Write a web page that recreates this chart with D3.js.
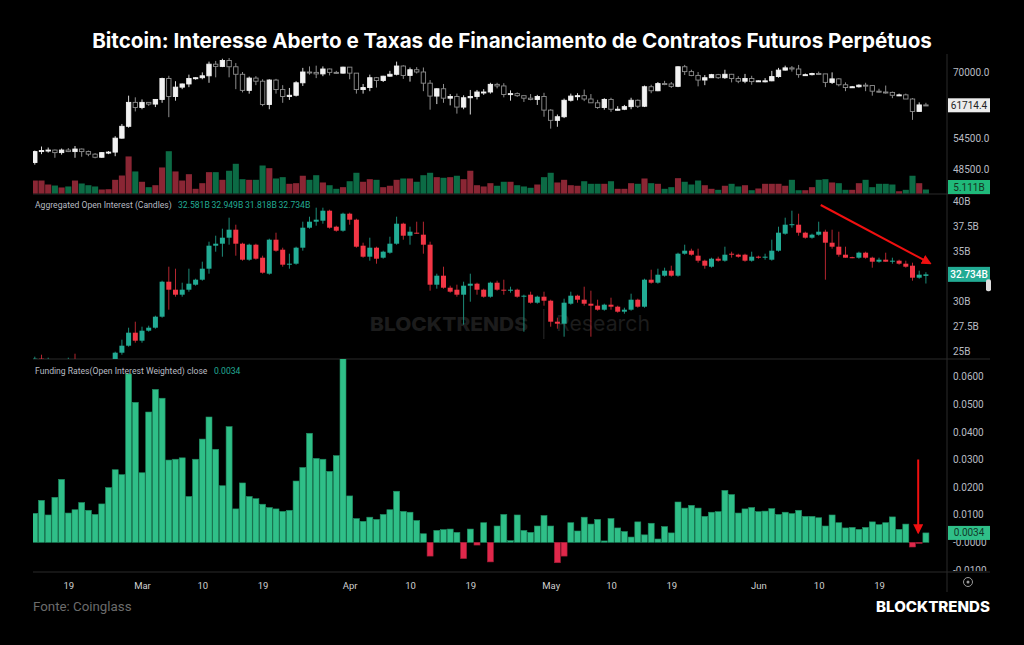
<!DOCTYPE html>
<html>
<head>
<meta charset="utf-8">
<script src="https://cdn.jsdelivr.net/npm/d3@7"></script>
<style>
  html, body { margin: 0; background: #000; }
  text { font-family: Roboto, "Liberation Sans", sans-serif; }
</style>
</head>
<body>
<svg id="chart" width="1024" height="645"></svg>
<script>
// daily candles, 2024-02-14 .. 2024-06-26
const startDay = Date.UTC(2024, 1, 14)

// BTC price [open, high, low, close]
const btcOHLC = [
  [49700,52000,49300,51800],[51800,52800,51300,52000],[52000,52600,51600,52100],[52100,52200,50600,51600],
  [51600,52400,51200,52100],[52100,52500,51700,51800],[51800,52900,50600,52300],[52300,52400,50800,51800],
  [51800,52000,50900,51300],[51300,51500,50500,50700],[50700,51700,50600,51600],[51600,51900,51300,51700],
  [51700,54900,50900,54500],[54500,57500,54400,57000],[57000,64000,56700,62400],[62400,63600,60300,61200],
  [61200,63100,60800,62400],[62400,62400,61600,62000],[62000,63200,61300,63100],[63100,68500,62300,68300],
  [68300,69000,59000,63800],[63800,67600,62800,66100],[66100,67000,65600,66900],[66900,69300,66100,68300],
  [68300,68600,68000,68500],[68500,69900,68100,69000],[69000,72800,67200,72100],[72100,73000,68600,71500],
  [71500,73600,71300,73100],[73100,73800,68600,71400],[71400,72400,65600,69400],[69400,70000,64800,65300],
  [65300,68800,64500,68400],[68400,68900,66600,67600],[67600,68100,61500,61900],[61900,68100,60800,67900],
  [67900,68200,64500,65500],[65500,66600,62300,63800],[63800,65900,63000,64100],[64100,67600,63800,67200],
  [67200,71100,66400,70000],[70000,71500,69300,69900],[69900,71700,68400,69500],[69500,71500,68900,70800],
  [70800,70900,69100,69900],[69900,70300,69500,69700],[69700,71400,69600,71300],
  [71300,71300,68100,69700],[69700,69700,64500,65500],[65500,66900,64500,66000],[66000,69300,65100,68500],
  [68500,68700,66000,67800],[67800,69000,67400,68900],[68900,70300,68800,69400],[69400,72800,69100,71600],
  [71600,71800,68200,69100],[69100,71200,67500,70600],[70600,71300,69600,70000],[70000,71200,65100,67100],
  [67100,67900,60700,63900],[63900,65800,62000,65700],[65700,66900,62300,63400],[63400,64400,61700,63800],
  [63800,64500,59800,61300],[61300,64100,60800,63500],[63500,65400,59600,63800],[63800,65400,63100,64900],
  [64900,65600,64200,64900],[64900,67200,64500,66800],[66800,67200,65800,66400],[66400,67100,63600,64300],
  [64300,65300,62800,64500],[64500,64800,63700,64000],[64000,64000,62500,63400],[63400,64400,62900,63100],
  [63100,64200,61800,63800],[63800,64700,59100,60600],
  [60600,60800,56500,58300],[58300,59600,56900,59100],[59100,63300,58800,62900],[62900,64500,62600,63900],
  [63900,64600,62900,64000],[64000,65500,62700,63200],[63200,64400,62300,62300],[62300,63000,60900,61200],
  [61200,63400,60700,63100],[63100,63500,60200,60800],[60800,61500,60500,60800],[60800,61800,60600,61400],
  [61400,63500,60800,62900],[62900,63100,61100,61500],[61500,66500,61300,66200],[66200,66700,64600,65200],
  [65200,67400,65100,67000],[67000,67700,66600,66900],[66900,67400,65900,66300],[66300,71500,66100,71400],
  [71400,71900,69200,70100],[70100,70600,68900,69100],[69100,70000,66300,67900],[67900,69200,66600,68500],
  [68500,69500,68500,69300],[69300,69500,68200,68500],[68500,70600,68200,69400],[69400,69500,67300,68300],
  [68300,68900,67100,67600],[67600,69500,67100,68300],[68300,69000,66700,67500],
  [67500,67800,67400,67700],[67700,68400,67300,67700],[67700,70300,67600,68800],[68800,71100,68500,70500],
  [70500,71700,70400,71100],[71100,71600,70100,70800],[70800,71900,68500,69300],[69300,69600,69200,69300],
  [69300,69800,69100,69600],[69600,70100,69200,69500],[69500,69500,66100,67300],[67300,69900,66900,68200],
  [68200,68400,66300,66700],[66700,67300,65100,66000],[66000,66400,65900,66200],[66200,66800,66000,66600],
  [66600,67200,65100,66500],[66500,66500,64000,65100],[65100,65700,64700,64900],[64900,66500,64500,64800],
  [64800,65000,63400,64100],[64100,64500,63900,64200],[64200,64500,63200,63200],[63200,63400,58400,60300],
  [60300,62400,60300,61800],[61800,62300,61600,61714.4]
]

// volume, billions
const btcVolumeB = [
  16.6,16.6,11.5,10.2,7.7,9.0,16.6,12.8,10.6,9.0,5.1,5.5,17.5,23.0,47.4,28.2,
  15.0,8.1,10.6,33.3,54.1,28.2,16.6,24.7,6.0,13.2,27.3,27.3,17.5,29.1,38.0,18.3,
  17.5,17.5,35.8,32.4,19.2,20.9,12.4,13.2,22.7,17.5,23.4,14.1,10.6,6.0,8.1,
  15.7,26.5,15.0,18.3,17.5,8.1,9.9,17.5,19.2,19.2,15.0,23.4,26.5,20.9,20.1,
  20.9,22.7,18.3,29.1,10.6,9.0,13.2,9.9,15.0,15.0,10.6,9.0,7.3,11.5,20.9,
  26.5,14.1,17.5,10.6,9.9,15.7,12.4,12.4,12.4,15.7,6.0,6.0,13.2,12.4,19.2,
  13.2,12.4,6.0,8.1,19.6,15.0,11.5,16.6,10.6,6.0,4.7,9.9,12.4,9.0,10.6,4.2,
  6.4,12.4,12.4,12.4,9.9,17.5,4.2,4.2,8.1,17.5,18.3,14.1,13.2,4.7,4.7,13.2,
  17.5,8.1,12.4,12.4,11.5,2.9,4.7,22.7,13.2,5.111
]

// aggregated open interest, billions [open, high, low, close]
const oiOHLC = [
  [23.8,24.5,23.6,24.3],[24.3,24.7,23.9,24.0],[24.0,24.4,23.8,24.2],[24.2,24.2,23.5,23.7],
  [23.7,24.1,23.4,23.9],[23.9,24.4,23.7,24.1],[24.1,24.8,23.8,23.9],[23.9,24.1,23.3,23.5],
  [23.5,23.9,23.2,23.7],[23.7,24.0,23.4,23.8],[23.8,24.1,23.6,23.9],[23.9,24.2,23.7,24.1],
  [24.1,25.0,24.0,24.9],[24.9,26.2,24.7,25.6],[25.6,27.4,25.5,26.9],[26.9,28.0,25.9,26.1],
  [26.1,27.5,25.9,27.1],[27.1,27.6,27.0,27.4],[27.4,28.6,27.3,28.5],[28.5,32.1,28.4,32.0],
  [32.0,33.5,29.2,31.2],[31.2,33.3,30.5,30.7],[30.7,31.9,30.5,31.2],[31.2,33.3,31.0,31.8],
  [31.7,32.3,31.6,32.2],[32.2,34.0,32.1,33.3],[33.3,36.0,32.8,35.6],[35.6,36.6,35.0,35.8],
  [35.8,37.3,34.5,36.4],[36.4,38.4,35.7,37.2],[37.2,37.7,34.6,35.8],[35.8,35.9,34.1,34.2],
  [34.2,35.8,34.1,35.7],[35.7,35.8,34.2,34.3],[34.4,34.6,32.8,32.9],[32.8,36.3,32.7,36.2],
  [36.2,36.9,35.0,35.1],[35.2,35.4,33.5,33.7],[33.7,34.8,33.3,33.8],[33.8,35.5,33.7,35.4],
  [35.4,38.0,35.1,37.4],[37.4,38.5,37.3,38.0],[38.0,39.4,37.6,38.2],[38.1,39.4,37.8,39.1],
  [39.1,39.2,37.3,37.4],[37.5,37.6,37.0,37.1],[37.1,38.9,37.0,38.8],[38.8,38.9,37.7,38.2],
  [38.2,38.3,35.4,35.5],[35.6,35.9,34.4,34.5],[34.5,36.4,34.1,35.4],[35.4,35.5,33.8,34.3],
  [34.4,35.1,34.3,35.0],[34.9,36.5,34.8,35.8],[35.8,38.5,35.7,37.8],[37.8,37.9,36.2,36.6],
  [36.6,37.5,35.7,37.0],[36.9,38.0,36.8,36.8],[36.7,38.0,34.8,35.7],[35.7,36.0,31.1,31.7],
  [31.7,32.8,31.3,32.6],[32.6,33.5,31.3,31.4],[31.4,31.6,30.9,31.0],[31.2,31.7,30.5,30.7],
  [30.7,32.0,27.7,31.6],[31.6,32.8,30.0,31.8],[31.8,31.9,30.7,31.2],[31.2,31.3,30.4,30.5],
  [30.5,32.0,30.4,31.9],[31.9,32.1,31.1,31.2],[31.2,32.2,30.7,31.1],[31.1,31.5,30.9,31.2],
  [31.2,31.3,30.4,30.5],[30.5,30.7,27.0,30.6],[30.7,31.0,29.8,29.9],[29.9,30.6,29.8,30.5],
  [30.5,31.0,29.6,30.1],[30.1,30.2,27.5,28.0],[28.0,28.4,27.3,27.8],[27.8,30.3,26.5,29.9],
  [29.8,31.0,29.7,30.6],[30.6,30.7,29.9,30.2],[30.2,31.5,29.6,29.8],[29.8,31.1,26.5,29.6],
  [29.6,30.2,29.1,29.2],[29.2,29.8,29.1,29.7],[29.7,30.4,29.2,29.5],[29.5,29.6,28.9,29.0],
  [29.0,29.4,28.8,29.2],[29.2,30.8,29.1,30.2],[30.2,30.3,29.4,29.5],[29.5,32.3,29.4,32.2],
  [32.2,33.2,31.8,31.9],[31.9,33.3,31.8,32.7],[32.6,33.4,32.5,33.1],[33.1,33.6,32.5,32.6],
  [32.6,34.9,32.5,34.8],[34.8,35.7,34.7,35.1],[35.1,35.3,34.6,34.7],[34.6,35.3,33.9,34.1],
  [34.1,34.2,33.3,33.6],[33.5,34.4,33.4,34.3],[34.3,34.5,34.0,34.1],[34.1,35.5,34.0,34.7],
  [34.8,35.0,34.4,34.7],[34.7,34.8,34.4,34.5],[34.7,34.8,34.0,34.1],[34.1,35.0,34.0,34.5],
  [34.5,34.6,34.3,34.4],[34.4,34.8,34.2,34.5],[34.2,36.2,34.1,35.1],[35.1,37.5,35.0,36.9],
  [36.8,38.4,36.7,37.7],[37.7,39.1,37.4,37.75],[37.7,38.8,36.6,36.9],[36.9,37.0,36.3,36.4],
  [36.4,36.8,36.3,36.7],[36.7,38.0,36.6,37.0],[37.0,37.2,32.2,35.9],[35.9,37.2,35.3,35.5],
  [35.5,37.0,34.5,34.7],[34.7,35.5,34.4,34.4],[34.45,34.5,34.35,34.4],[34.4,35.0,34.3,34.9],
  [34.9,35.0,34.3,34.4],[34.4,34.5,33.4,34.0],[34.0,34.4,33.9,34.2],[34.2,34.9,34.0,34.0],
  [34.0,34.4,33.8,34.1],[34.1,34.2,33.7,33.8],[33.8,34.1,33.4,33.5],[33.6,33.9,32.1,32.4],
  [32.4,33.1,32.3,32.7],[32.581,32.949,31.818,32.734]
]

// funding rates (OI weighted), close
const fundingRate = [
  0.0105,0.0152,0.0099,0.0163,0.0228,0.0106,0.0118,0.0144,0.0116,0.0101,0.0139,0.0198,
  0.0263,0.0245,0.0610,0.0507,0.0252,0.0472,0.0554,0.0522,0.0298,0.0301,0.0306,0.0166,
  0.0301,0.0374,0.0454,0.0337,0.0205,0.0419,0.0121,0.0215,0.0166,0.0158,0.0138,0.0126,
  0.0121,0.0112,0.0116,0.0222,0.0271,0.0395,0.0304,0.0301,0.0257,0.0314,0.0665,0.0168,
  0.0086,0.0076,0.0091,0.0083,0.0101,0.0118,0.0185,0.0112,0.0109,0.0079,0.0031,-0.0050,
  0.0043,0.0046,0.0048,0.0036,-0.0059,0.0048,-0.0010,0.0071,-0.0071,0.0059,0.0101,0.0006,
  0.0099,0.0043,0.0036,0.0059,0.0097,0.0059,-0.0074,-0.0050,0.0071,0.0041,0.0091,0.0066,
  0.0083,0.0005,0.0086,0.0052,0.0039,0.0019,0.0074,0.0027,0.0069,0.0012,0.0057,0.0034,
  0.0146,0.0124,0.0134,0.0124,0.0094,0.0109,0.0111,0.0188,0.0173,0.0106,0.0121,0.0126,
  0.0111,0.0113,0.0122,0.0101,0.0109,0.0104,0.0116,0.0094,0.0094,0.0089,0.0059,0.0099,
  0.0071,0.0052,0.0054,0.0047,0.0054,0.0074,0.0064,0.0071,0.0092,0.0047,0.0066,-0.0017,
  -0.0004,0.0034
]

const priceTicks = [48500, 54500, 70000]
const oiTicks = [25, 27.5, 30, 35, 37.5, 40]
const fundingTicks = [-0.01, 0, 0.01, 0.02, 0.03, 0.04, 0.05, 0.06]
const xTickDays = ["2024-02-19","2024-03-01","2024-03-10","2024-03-19","2024-04-01","2024-04-10",
  "2024-04-19","2024-05-01","2024-05-10","2024-05-19","2024-06-01","2024-06-10","2024-06-19"]

// annotation arrows: [day index, value]
const oiArrow = [[117.3, 39.67], [133.6, 33.85]]
const fundingArrow = [[131.85, 0.0300], [131.85, 0.0036]]

const days = btcOHLC.map((d, i) => new Date(startDay + i * 864e5))
const lastI = days.length - 1

const svg = d3.select("#chart")
svg.append("rect").attr("width", 1024).attr("height", 645).attr("fill", "#000")

const x = d3.scaleUtc().domain([days[0], days[lastI]]).range([34.8, 925.9])
const xi = d3.scaleLinear().domain([0, lastI]).range([34.8, 925.9])

const P = {left: 33, axis: 947, right: 990}
const panels = {price: [55, 194], oi: [194, 359], fund: [359, 572]}

const defs = svg.append("defs")
Object.entries(panels).forEach(([k, [t, b]]) => {
  defs.append("clipPath").attr("id", "clip-" + k)
    .append("rect").attr("x", P.left).attr("y", t).attr("width", P.axis - P.left).attr("height", b - t)
  // axis groups are translated to P.axis, so their clip lives in local coords
  defs.append("clipPath").attr("id", "clipax-" + k)
    .append("rect").attr("x", 0).attr("y", t).attr("width", 60).attr("height", b - t - 1)
})
defs.append("marker").attr("id", "arrowRed").attr("viewBox", "0 0 10 10")
  .attr("refX", 8).attr("refY", 5).attr("markerWidth", 5).attr("markerHeight", 5)
  .attr("orient", "auto").attr("markerUnits", "strokeWidth")
  .append("path").attr("d", "M0,0L10,5L0,10z").attr("fill", "#f01010")

// title
svg.append("text").attr("x", 512).attr("y", 48).attr("text-anchor", "middle")
  .style("font-family", "Inter, Roboto, sans-serif").style("font-weight", 700).style("font-size", "20.6px")
  .attr("fill", "#fff").text("Bitcoin: Interesse Aberto e Taxas de Financiamento de Contratos Futuros Perpétuos")

// frame lines
const lineCol = "#2b2b2b"
svg.append("line").attr("x1", P.axis).attr("x2", P.axis).attr("y1", 54).attr("y2", 592).attr("stroke", lineCol)
;[194, 359, 572].forEach(y => svg.append("line").attr("x1", P.left).attr("x2", P.right)
  .attr("y1", y).attr("y2", y).attr("stroke", lineCol))

const axisText = "#b8bbc2"
function rightAxis(scale, ticks, fmt, panel) {
  const g = svg.append("g").attr("transform", `translate(${P.axis},0)`)
    .attr("clip-path", `url(#clipax-${panel})`)
    .call(d3.axisRight(scale).tickValues(ticks).tickFormat(fmt).tickSize(0).tickPadding(6))
  g.select(".domain").remove()
  g.selectAll("text").attr("fill", axisText).style("font-size", "10px")
    .style("font-family", "Roboto, sans-serif")
  return g
}

// ---------- price panel ----------
const yPrice = d3.scaleLog().domain([44120, 74650]).range([194, 55])
const yVol = d3.scaleLinear().domain([0, 54.1]).range([193.5, 151.2])
const gPrice = svg.append("g").attr("clip-path", "url(#clip-price)")

gPrice.selectAll(".vol").data(btcVolumeB).join("rect")
  .attr("x", (d, i) => x(days[i]) - 3.05).attr("width", 6.1)
  .attr("y", d => yVol(d)).attr("height", d => yVol(0) - yVol(d))
  .attr("fill", (d, i) => btcOHLC[i][3] >= btcOHLC[i][0] ? "#8a2634" : "#0c6b45")

const pc = gPrice.selectAll(".pc").data(btcOHLC).join("g")
  .attr("transform", (d, i) => `translate(${x(days[i])},0)`)
pc.append("line").attr("y1", d => yPrice(d[1])).attr("y2", d => yPrice(d[2]))
  .attr("stroke", d => d[3] >= d[0] ? "#d8d8d8" : "#8e8e8e").attr("stroke-width", 1)
pc.append("rect").attr("x", -2.2).attr("width", 4.4)
  .attr("y", d => yPrice(Math.max(d[0], d[3])))
  .attr("height", d => Math.max(1, Math.abs(yPrice(d[0]) - yPrice(d[3]))))
  .attr("fill", d => d[3] >= d[0] ? "#f2f2f2" : "#000")
  .attr("stroke", d => d[3] >= d[0] ? "#f2f2f2" : "#8e8e8e").attr("stroke-width", 0.9)

rightAxis(yPrice, priceTicks, d3.format(".1f"), "price")

// last price / volume labels
const lastP = btcOHLC[lastI][3]
svg.append("rect").attr("x", 948).attr("y", yPrice(lastP) - 7).attr("width", 42).attr("height", 14)
  .attr("fill", "#ececec")
svg.append("text").attr("x", 969).attr("y", yPrice(lastP) + 3.5).attr("text-anchor", "middle")
  .attr("fill", "#222").style("font-size", "10px").text(d3.format(".1f")(lastP))
svg.append("rect").attr("x", 948).attr("y", 180).attr("width", 42).attr("height", 14).attr("fill", "#1fb97a")
svg.append("text").attr("x", 969).attr("y", 190.5).attr("text-anchor", "middle")
  .attr("fill", "#17331f").style("font-size", "10px").text(d3.format(".3f")(btcVolumeB[lastI]) + "B")

// ---------- open interest panel ----------
const yOI = d3.scaleLinear().domain([24.27, 40.77]).range([359, 194])
const gOI = svg.append("g").attr("clip-path", "url(#clip-oi)")

// watermark
const wm = gOI.append("g").attr("fill", "#1c1c1c")
wm.append("text").attr("x", 370).attr("y", 331).style("font-family", "Inter, sans-serif")
  .style("font-weight", 800).style("font-size", "19px").attr("textLength", 158)
  .attr("lengthAdjust", "spacingAndGlyphs").text("BLOCKTRENDS")
wm.append("rect").attr("x", 543).attr("y", 309).attr("width", 1.5).attr("height", 30)
wm.append("text").attr("x", 556).attr("y", 331).style("font-family", "Inter, sans-serif")
  .style("font-weight", 400).style("font-size", "21px").attr("textLength", 94)
  .attr("lengthAdjust", "spacingAndGlyphs").text("Research")

const upOI = "#22ab94", dnOI = "#f23645"
const oc = gOI.selectAll(".oc").data(oiOHLC).join("g")
  .attr("transform", (d, i) => `translate(${x(days[i])},0)`)
oc.append("line").attr("y1", d => yOI(d[1])).attr("y2", d => yOI(d[2]))
  .attr("stroke", d => d[3] >= d[0] ? "#1c8a78" : "#b3262f").attr("stroke-width", 1)
oc.append("rect").attr("x", -2.5).attr("width", 5)
  .attr("y", d => yOI(Math.max(d[0], d[3])))
  .attr("height", d => Math.max(1, Math.abs(yOI(d[0]) - yOI(d[3]))))
  .attr("fill", d => d[3] >= d[0] ? upOI : dnOI)

rightAxis(yOI, oiTicks, d => d3.format("~g")(d) + "B", "oi")

svg.append("path").attr("d", d3.line()(oiArrow.map(([i, v]) => [xi(i), yOI(v)])))
  .attr("stroke", "#f01010").attr("stroke-width", 2).attr("marker-end", "url(#arrowRed)")

const lastOI = oiOHLC[lastI]
svg.append("rect").attr("x", 948).attr("y", yOI(lastOI[3]) - 7.5).attr("width", 42).attr("height", 15)
  .attr("fill", upOI)
svg.append("text").attr("x", 969).attr("y", yOI(lastOI[3]) + 3.5).attr("text-anchor", "middle")
  .attr("fill", "#fff").style("font-size", "10px").style("font-weight", 500).text(lastOI[3].toFixed(3) + "B")
svg.append("rect").attr("x", 986).attr("y", yOI(lastOI[3]) + 5).attr("width", 5).attr("height", 12)
  .attr("rx", 2).attr("fill", "#ddd")

const oiLegend = svg.append("g").style("font-size", "8.6px")
oiLegend.append("text").attr("x", 35).attr("y", 208).attr("fill", "#b8bbc2")
  .text("Aggregated Open Interest (Candles)")
oiLegend.selectAll(".v").data(lastOI).join("text")
  .attr("x", (d, k) => 178 + k * 33.5).attr("y", 208).attr("fill", upOI)
  .text(d => d.toFixed(3) + "B")

// ---------- funding panel ----------
const yF = d3.scaleLinear().domain([-0.01076, 0.06641]).range([572, 359])
const gF = svg.append("g").attr("clip-path", "url(#clip-fund)")
gF.selectAll(".fr").data(fundingRate).join("rect")
  .attr("x", (d, i) => x(days[i]) - 3).attr("width", 6)
  .attr("y", d => yF(Math.max(0, d))).attr("height", d => Math.max(0.8, Math.abs(yF(d) - yF(0))))
  .attr("fill", d => d >= 0 ? "#2fbf88" : "#e0284b")
  .attr("stroke", d => d >= 0 ? "#1f8a60" : "#9e1c36").attr("stroke-width", 0.6)

rightAxis(yF, fundingTicks, d => (d === 0 ? "-" : "") + d3.format(".4f")(d).replace("−", "-"), "fund")

svg.append("path").attr("d", d3.line()(fundingArrow.map(([i, v]) => [xi(i), yF(v)])))
  .attr("stroke", "#f01010").attr("stroke-width", 2).attr("marker-end", "url(#arrowRed)")

const lastF = fundingRate[lastI]
svg.append("rect").attr("x", 948).attr("y", yF(lastF) - 7).attr("width", 42).attr("height", 14)
  .attr("fill", "#2fbf88")
svg.append("text").attr("x", 969).attr("y", yF(lastF) + 3.5).attr("text-anchor", "middle")
  .attr("fill", "#123a2a").style("font-size", "10px").text(lastF.toFixed(4))

const fLegend = svg.append("text").attr("x", 35).attr("y", 374).style("font-size", "8.6px")
fLegend.append("tspan").attr("fill", "#b8bbc2").text("Funding Rates(Open Interest Weighted) close")
fLegend.append("tspan").attr("x", 214).attr("fill", "#22ab94").text(lastF.toFixed(4))

// ---------- time axis ----------
const fmtTick = d => d.getUTCDate() === 1 ? d3.utcFormat("%b")(d) : d3.utcFormat("%-d")(d)
const gx = svg.append("g").attr("transform", "translate(0,576)")
  .call(d3.axisBottom(x).tickValues(xTickDays.map(s => new Date(s + "T00:00:00Z")))
    .tickFormat(fmtTick).tickSize(0).tickPadding(6))
gx.select(".domain").remove()
gx.selectAll("text").attr("fill", "#d0d0d0").style("font-size", "9.5px")

svg.append("circle").attr("cx", 968).attr("cy", 582).attr("r", 4.5).attr("fill", "none")
  .attr("stroke", "#9a9a9a").attr("stroke-width", 1)
svg.append("circle").attr("cx", 968).attr("cy", 582).attr("r", 1.5).attr("fill", "#9a9a9a")

// footer
svg.append("text").attr("x", 33).attr("y", 611).attr("fill", "#6c6c6c")
  .style("font-size", "13.3px").text("Fonte: Coinglass")
svg.append("text").attr("x", 990).attr("y", 612).attr("text-anchor", "end").attr("fill", "#fff")
  .style("font-family", "Inter, sans-serif").style("font-weight", 800).style("font-size", "14px")
  .attr("textLength", 114).attr("lengthAdjust", "spacingAndGlyphs").text("BLOCKTRENDS")
</script>
</body>
</html>
